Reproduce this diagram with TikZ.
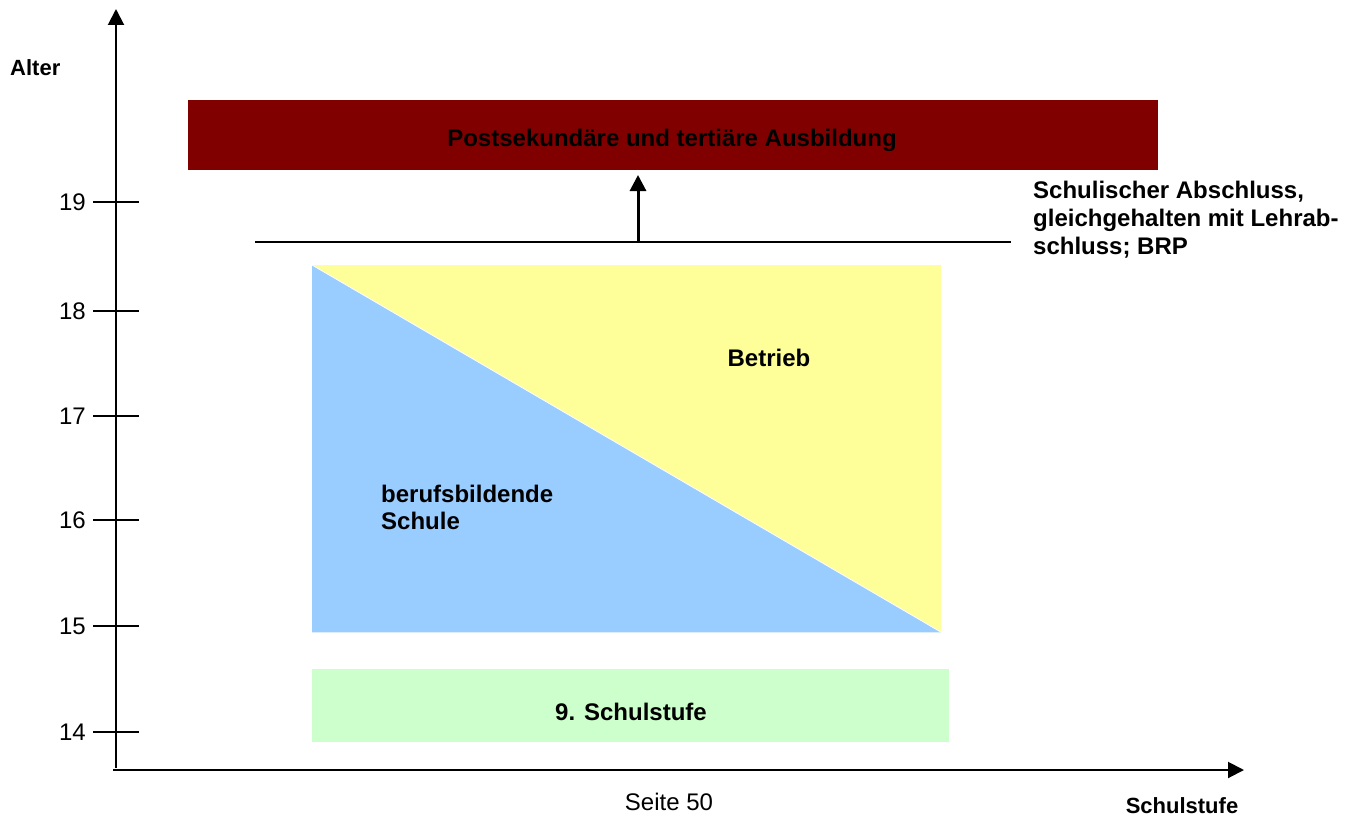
\documentclass[tikz,border=0pt]{standalone}
\usepackage{fontspec}
\setmainfont{Liberation Sans}
\usetikzlibrary{arrows.meta}
\definecolor{darkred}{HTML}{800000}
\definecolor{lightyellow}{HTML}{FFFF99}
\definecolor{lightblue}{HTML}{99CCFF}
\definecolor{lightgreen}{HTML}{CCFFCC}
\begin{document}
\begin{tikzpicture}[x=1pt,y=-1pt,
  lbl/.style={font=\fontsize{24}{27}\selectfont\bfseries, inner sep=0pt},
  axlbl/.style={font=\fontsize{22}{27}\selectfont\bfseries, inner sep=0pt},
  num/.style={font=\fontsize{24}{27}\selectfont, inner sep=0pt, anchor=east},
  tick/.style={line width=1.5pt},
  axis/.style={line width=2pt, -{Triangle[length=16pt,width=16pt]}},
  box/.style={inner sep=0pt, draw=none}]
\useasboundingbox (0,0) rectangle (1357,816);
% boxes
\node[box, fill=darkred, minimum width=970pt, minimum height=70pt, anchor=north west] (post) at (188,100) {};
\node[lbl] (posttxt) at (672,140) {Postsekundäre und tertiäre Ausbildung};
\node[box, fill=lightyellow, minimum width=629pt, minimum height=367pt, anchor=north west] (betrieb) at (312,265) {};
\fill[lightblue] (betrieb.north west) -- (betrieb.south west) -- (betrieb.south east) -- cycle;
\draw[white, line width=0.8pt] (betrieb.north west) -- (betrieb.south east);
\node[box, fill=lightgreen, minimum width=637pt, minimum height=73pt, anchor=north west] (stufe) at (312,669) {};
\node[lbl] (stufetxt) at (631,712) {9. Schulstufe};
\node[lbl] (betriebtxt) at (769,358) {Betrieb};
\node[lbl, align=left, anchor=west] (schule) at (381,507) {berufsbildende\\Schule};
% axes
\coordinate (o) at (116,768);
\coordinate (ytop) at (116,9);
\coordinate (xo) at (113,770);
\coordinate (xend) at (1244,770);
\draw[axis] (o) -- (ytop);
\draw[axis] (xo) -- (xend);
\node[axlbl, anchor=west] (alter) at (10,68) {Alter};
\node[axlbl] (schulstufe) at (1182,806) {Schulstufe};
\node[font=\fontsize{24}{27}\selectfont, inner sep=0pt] (seite) at (669,802) {Seite 50};
% ticks
\foreach \v/\y in {19/202,18/311,17/416,16/520,15/626,14/732}{
  \coordinate (tl\v) at (93,\y);
  \coordinate (tr\v) at (139,\y);
  \draw[tick] (tl\v) -- (tr\v);
  \node[num] (n\v) at (86,\y) {\v};
}
% Abschluss line and arrow
\coordinate (la) at (255,242);
\coordinate (lb) at (1011,242);
\draw[line width=2pt] (la) -- (lb);
\coordinate (am) at (638,242);
\coordinate (at) at (638,175);
\draw[line width=3pt, -{Triangle[length=16pt,width=16pt]}] (am) -- (at);
\node[align=left, anchor=north west, inner sep=0pt, font=\fontsize{24}{28}\selectfont\bfseries] (abschl) at (1033,181) {Schulischer Abschluss,\\gleichgehalten mit Lehrab-\\schluss; BRP};
\end{tikzpicture}
\end{document}
